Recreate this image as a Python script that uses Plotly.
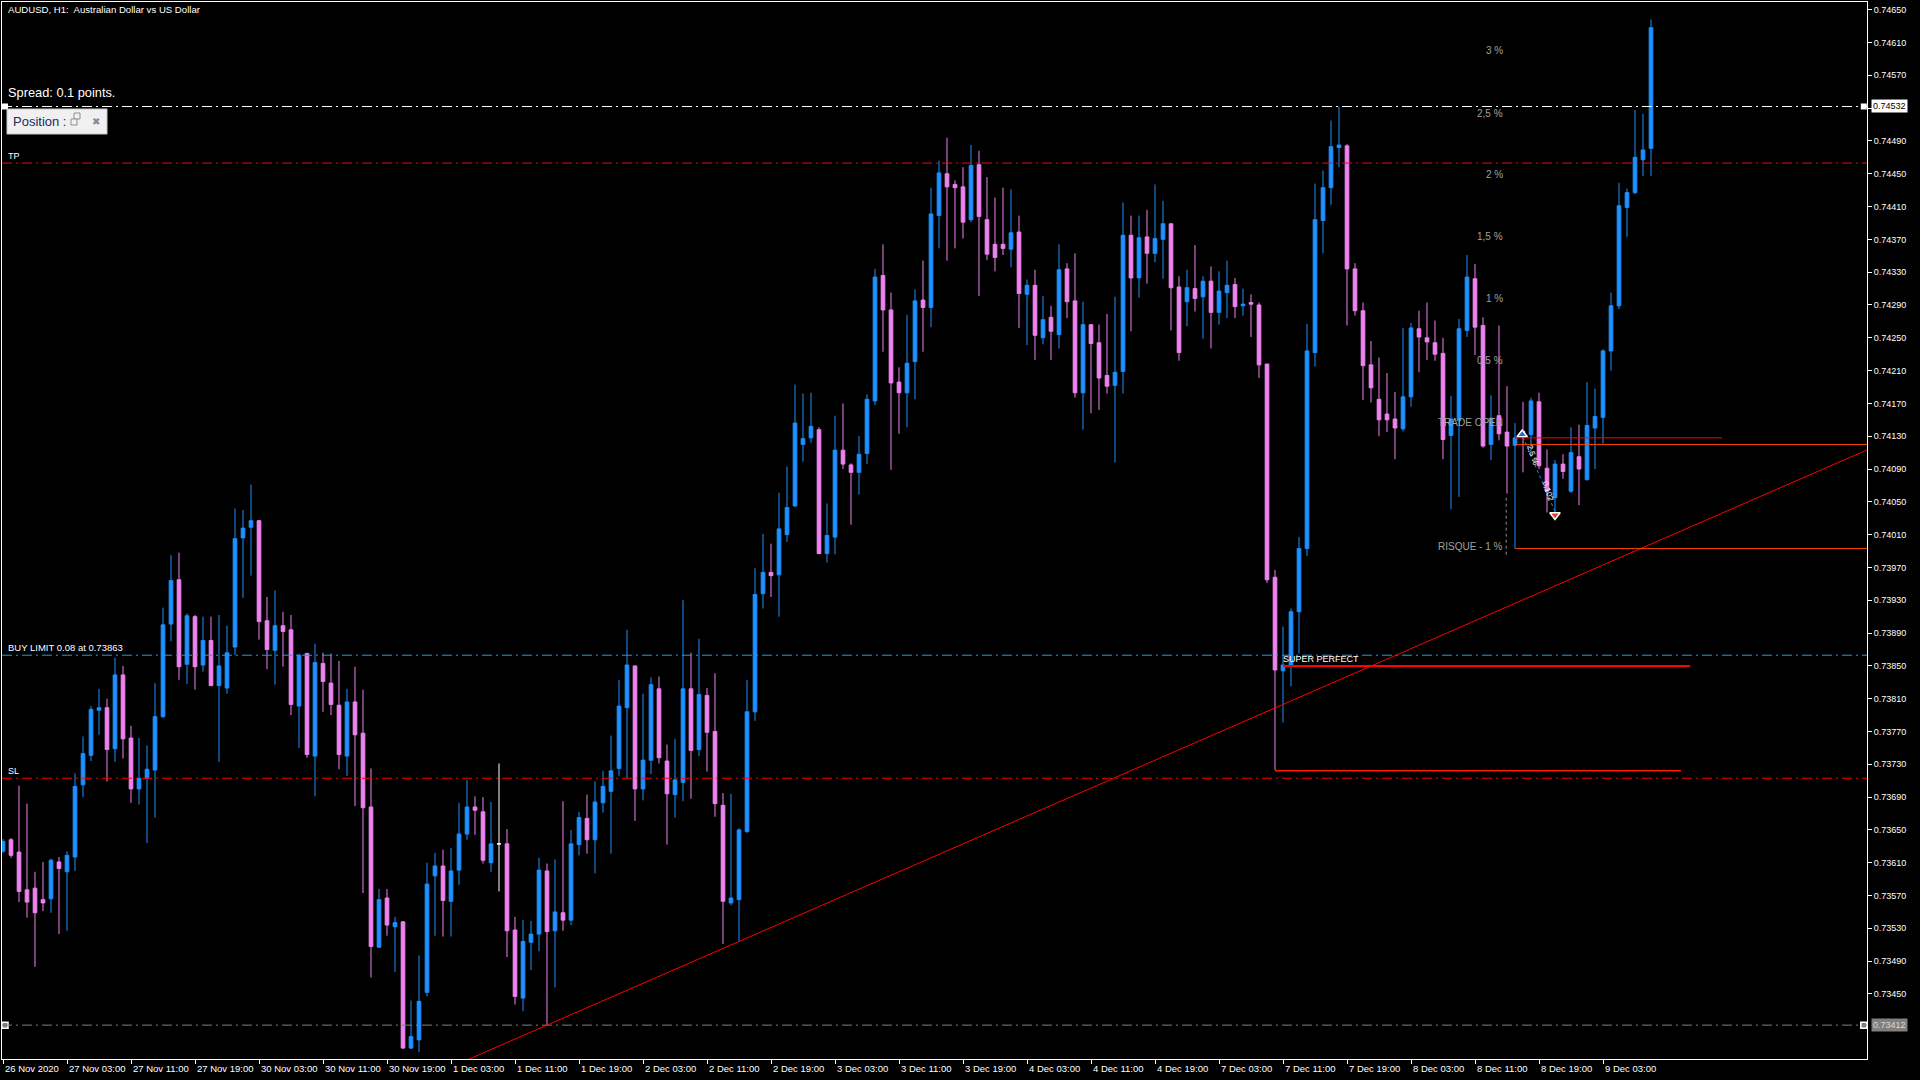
import plotly.graph_objects as go

# AUDUSD H1, bar 0 = 26 Nov 2020 19:00 (weekend hours skipped)
opens = [
    0.73624, 0.73638, 0.73623, 0.73577, 0.73579, 0.73565, 0.73566, 0.73611, 0.73599, 0.73617,
    0.73705, 0.73741, 0.73796, 0.73799, 0.73749, 0.73839, 0.73762, 0.73700, 0.73713, 0.73723,
    0.73788, 0.73901, 0.73955, 0.73852, 0.73910, 0.73851, 0.73881, 0.73826, 0.73823, 0.73873,
    0.74006, 0.74019, 0.74027, 0.73905, 0.73869, 0.73899, 0.73894, 0.73801, 0.73865, 0.73740,
    0.73853, 0.73829, 0.73802, 0.73740, 0.73806, 0.73768, 0.73678, 0.73507, 0.73567, 0.73532,
    0.73538, 0.73384, 0.73394, 0.73452, 0.73594, 0.73606, 0.73563, 0.73601, 0.73645, 0.73678,
    0.73672, 0.73610, 0.73633, 0.73633, 0.73528, 0.73445, 0.73513, 0.73523, 0.73600, 0.73527,
    0.73549, 0.73540, 0.73632, 0.73664, 0.73638, 0.73683, 0.73697, 0.73725, 0.73799, 0.73850,
    0.73700, 0.73735, 0.73822, 0.73734, 0.73693, 0.73708, 0.73822, 0.73748, 0.73814, 0.73770,
    0.73680, 0.73561, 0.73565, 0.73648, 0.73794, 0.73938, 0.73964, 0.73961, 0.74010, 0.74045,
    0.74120, 0.74128, 0.74138, 0.73987, 0.74007, 0.74113, 0.74095, 0.74086, 0.74109, 0.74173,
    0.74326, 0.74284, 0.74196, 0.74183, 0.74221, 0.74296, 0.74287, 0.74399, 0.74450, 0.74437,
    0.74434, 0.74394, 0.74461, 0.74394, 0.74364, 0.74364, 0.74358, 0.74379, 0.74303, 0.74314,
    0.74250, 0.74275, 0.74254, 0.74334, 0.74295, 0.74183, 0.74266, 0.74244, 0.74204, 0.74192,
    0.74209, 0.74375, 0.74323, 0.74373, 0.74353, 0.74370, 0.74389, 0.74312, 0.74294, 0.74310,
    0.74300, 0.74319, 0.74281, 0.74305, 0.74315, 0.74289, 0.74293, 0.74290, 0.74218, 0.73958,
    0.73844, 0.73850, 0.73916, 0.73993, 0.74232, 0.74393, 0.74433, 0.74482, 0.74484, 0.74334,
    0.74283, 0.74217, 0.74175, 0.74157, 0.74151, 0.74139, 0.74178, 0.74261, 0.74250, 0.74244,
    0.74231, 0.74131, 0.74149, 0.74259, 0.74322, 0.74265, 0.74120, 0.74155, 0.74135, 0.74119,
    0.74136, 0.74132, 0.74172, 0.74091, 0.74055, 0.74096, 0.74063, 0.74105, 0.74077, 0.74140,
    0.74153, 0.74234, 0.74289, 0.74409, 0.74427, 0.74467, 0.74481,
]
highs = [
    0.73639, 0.73640, 0.73704, 0.73682, 0.73599, 0.73611, 0.73615, 0.73617, 0.73624, 0.73719,
    0.73764, 0.73801, 0.73822, 0.73810, 0.73860, 0.73850, 0.73777, 0.73762, 0.73753, 0.73829,
    0.73921, 0.73985, 0.73988, 0.73914, 0.73912, 0.73910, 0.73910, 0.73912, 0.73899, 0.74042,
    0.74040, 0.74071, 0.74028, 0.73934, 0.73942, 0.73916, 0.73912, 0.73865, 0.73866, 0.73877,
    0.73866, 0.73865, 0.73856, 0.73822, 0.73849, 0.73821, 0.73725, 0.73578, 0.73578, 0.73544,
    0.73538, 0.73442, 0.73497, 0.73610, 0.73622, 0.73626, 0.73628, 0.73683, 0.73711, 0.73691,
    0.73690, 0.73684, 0.73731, 0.73651, 0.73544, 0.73540, 0.73539, 0.73616, 0.73609, 0.73614,
    0.73685, 0.73650, 0.73672, 0.73693, 0.73709, 0.73722, 0.73765, 0.73833, 0.73894, 0.73850,
    0.73816, 0.73836, 0.73837, 0.73754, 0.73761, 0.73930, 0.73866, 0.73883, 0.73823, 0.73841,
    0.73695, 0.73694, 0.73652, 0.73833, 0.73969, 0.74011, 0.73999, 0.74061, 0.74093, 0.74193,
    0.74182, 0.74183, 0.74141, 0.74048, 0.74155, 0.74170, 0.74097, 0.74130, 0.74181, 0.74334,
    0.74364, 0.74305, 0.74214, 0.74278, 0.74309, 0.74344, 0.74433, 0.74466, 0.74494, 0.74442,
    0.74458, 0.74485, 0.74478, 0.74446, 0.74421, 0.74433, 0.74431, 0.74399, 0.74321, 0.74333,
    0.74301, 0.74289, 0.74364, 0.74341, 0.74353, 0.74294, 0.74266, 0.74266, 0.74279, 0.74300,
    0.74415, 0.74399, 0.74399, 0.74406, 0.74437, 0.74417, 0.74389, 0.74325, 0.74333, 0.74363,
    0.74325, 0.74337, 0.74331, 0.74344, 0.74323, 0.74310, 0.74303, 0.74293, 0.74218, 0.73967,
    0.73898, 0.73920, 0.74007, 0.74267, 0.74438, 0.74454, 0.74515, 0.74532, 0.74486, 0.74341,
    0.74293, 0.74246, 0.74226, 0.74207, 0.74184, 0.74262, 0.74268, 0.74283, 0.74293, 0.74271,
    0.74250, 0.74179, 0.74273, 0.74351, 0.74340, 0.74275, 0.74180, 0.74265, 0.74191, 0.74146,
    0.74172, 0.74177, 0.74183, 0.74114, 0.74101, 0.74108, 0.74141, 0.74144, 0.74196, 0.74188,
    0.74236, 0.74305, 0.74439, 0.74432, 0.74528, 0.74523, 0.74638,
]
lows = [
    0.73622, 0.73616, 0.73562, 0.73543, 0.73483, 0.73551, 0.73549, 0.73523, 0.73527, 0.73600,
    0.73690, 0.73734, 0.73766, 0.73709, 0.73733, 0.73737, 0.73683, 0.73681, 0.73634, 0.73665,
    0.73787, 0.73880, 0.73833, 0.73828, 0.73821, 0.73843, 0.73825, 0.73733, 0.73816, 0.73863,
    0.73933, 0.73960, 0.73882, 0.73846, 0.73827, 0.73849, 0.73790, 0.73750, 0.73738, 0.73691,
    0.73794, 0.73790, 0.73724, 0.73716, 0.73679, 0.73573, 0.73470, 0.73506, 0.73521, 0.73477,
    0.73383, 0.73383, 0.73379, 0.73447, 0.73521, 0.73520, 0.73520, 0.73583, 0.73638, 0.73644,
    0.73609, 0.73599, 0.73575, 0.73495, 0.73437, 0.73429, 0.73479, 0.73502, 0.73412, 0.73458,
    0.73527, 0.73534, 0.73619, 0.73621, 0.73597, 0.73671, 0.73621, 0.73716, 0.73713, 0.73661,
    0.73686, 0.73718, 0.73731, 0.73632, 0.73665, 0.73685, 0.73688, 0.73740, 0.73721, 0.73666,
    0.73511, 0.73558, 0.73514, 0.73646, 0.73783, 0.73920, 0.73934, 0.73910, 0.74001, 0.74044,
    0.74099, 0.74122, 0.73986, 0.73976, 0.73986, 0.74090, 0.74022, 0.74059, 0.74096, 0.74168,
    0.74233, 0.74089, 0.74133, 0.74141, 0.74175, 0.74233, 0.74263, 0.74359, 0.74344, 0.74359,
    0.74371, 0.74391, 0.74301, 0.74345, 0.74331, 0.74351, 0.74336, 0.74262, 0.74241, 0.74223,
    0.74242, 0.74223, 0.74237, 0.74274, 0.74177, 0.74138, 0.74158, 0.74162, 0.74182, 0.74098,
    0.74182, 0.74258, 0.74299, 0.74316, 0.74342, 0.74322, 0.74259, 0.74222, 0.74264, 0.74282,
    0.74249, 0.74237, 0.74266, 0.74274, 0.74274, 0.74277, 0.74251, 0.74201, 0.73951, 0.73723,
    0.73781, 0.73825, 0.73865, 0.73984, 0.74215, 0.74353, 0.74412, 0.74458, 0.74265, 0.74277,
    0.74174, 0.74171, 0.74130, 0.74135, 0.74102, 0.74136, 0.74166, 0.74208, 0.74223, 0.74222,
    0.74102, 0.74041, 0.74056, 0.74251, 0.74229, 0.74116, 0.74101, 0.74125, 0.74060, 0.73993,
    0.74086, 0.74105, 0.74090, 0.74037, 0.74030, 0.74078, 0.74061, 0.74046, 0.74076, 0.74090,
    0.74121, 0.74210, 0.74285, 0.74373, 0.74425, 0.74447, 0.74447,
]
closes = [
    0.73636, 0.73619, 0.73575, 0.73562, 0.73549, 0.73561, 0.73613, 0.73603, 0.73619, 0.73703,
    0.73743, 0.73797, 0.73799, 0.73748, 0.73839, 0.73761, 0.73700, 0.73713, 0.73724, 0.73788,
    0.73900, 0.73954, 0.73849, 0.73911, 0.73849, 0.73881, 0.73826, 0.73850, 0.73866, 0.74005,
    0.74018, 0.74027, 0.73904, 0.73870, 0.73899, 0.73892, 0.73803, 0.73863, 0.73742, 0.73854,
    0.73831, 0.73803, 0.73742, 0.73806, 0.73766, 0.73677, 0.73508, 0.73565, 0.73534, 0.73537,
    0.73384, 0.73398, 0.73441, 0.73584, 0.73606, 0.73564, 0.73600, 0.73645, 0.73678, 0.73674,
    0.73613, 0.73633, 0.73633, 0.73527, 0.73447, 0.73514, 0.73523, 0.73601, 0.73526, 0.73550,
    0.73540, 0.73633, 0.73665, 0.73638, 0.73684, 0.73703, 0.73722, 0.73801, 0.73851, 0.73700,
    0.73735, 0.73827, 0.73738, 0.73694, 0.73711, 0.73822, 0.73747, 0.73815, 0.73769, 0.73682,
    0.73563, 0.73567, 0.73650, 0.73794, 0.73937, 0.73964, 0.73960, 0.74017, 0.74043, 0.74146,
    0.74127, 0.74142, 0.73987, 0.74009, 0.74113, 0.74096, 0.74086, 0.74108, 0.74175, 0.74324,
    0.74284, 0.74195, 0.74183, 0.74219, 0.74295, 0.74287, 0.74401, 0.74451, 0.74434, 0.74433,
    0.74391, 0.74460, 0.74398, 0.74352, 0.74348, 0.74359, 0.74378, 0.74304, 0.74314, 0.74253,
    0.74272, 0.74258, 0.74333, 0.74294, 0.74183, 0.74266, 0.74243, 0.74201, 0.74191, 0.74208,
    0.74375, 0.74323, 0.74372, 0.74353, 0.74371, 0.74389, 0.74311, 0.74232, 0.74311, 0.74298,
    0.74319, 0.74281, 0.74307, 0.74314, 0.74288, 0.74291, 0.74291, 0.74217, 0.73955, 0.73845,
    0.73851, 0.73916, 0.73993, 0.74234, 0.74394, 0.74433, 0.74483, 0.74485, 0.74334, 0.74283,
    0.74216, 0.74189, 0.74150, 0.74150, 0.74140, 0.74178, 0.74262, 0.74251, 0.74245, 0.74230,
    0.74126, 0.74151, 0.74261, 0.74324, 0.74263, 0.74118, 0.74152, 0.74133, 0.74118, 0.74128,
    0.74129, 0.74173, 0.74094, 0.74063, 0.74096, 0.74087, 0.74110, 0.74090, 0.74143, 0.74154,
    0.74234, 0.74289, 0.74411, 0.74427, 0.74470, 0.74479, 0.74628,
]

time_labels = [
    "26 Nov 2020", "27 Nov 03:00", "27 Nov 11:00", "27 Nov 19:00", "30 Nov 03:00",
    "30 Nov 11:00", "30 Nov 19:00", "1 Dec 03:00", "1 Dec 11:00", "1 Dec 19:00",
    "2 Dec 03:00", "2 Dec 11:00", "2 Dec 19:00", "3 Dec 03:00", "3 Dec 11:00",
    "3 Dec 19:00", "4 Dec 03:00", "4 Dec 11:00", "4 Dec 19:00", "7 Dec 03:00",
    "7 Dec 11:00", "7 Dec 19:00", "8 Dec 03:00", "8 Dec 11:00", "8 Dec 19:00",
    "9 Dec 03:00",
]
label_bars = [8 * i for i in range(len(time_labels))]

price_ticks = [round(0.73450 + 0.0004 * i, 5) for i in range(31)]

# order / object levels
tp_level = 0.74463
sl_level = 0.73713
buy_limit = 0.73863
hline_high = 0.74532
hline_low = 0.73412

# trend line anchors (bar, price)
trend_bars = [68, 92]
trend_prices = [0.73412, 0.73514]

# risk tool labels (text, level)
risk_labels = ["3 %", "2,5 %", "2 %", "1,5 %", "1 %", "0,5 %", "TRADE OPEN", "RISQUE - 1 %"]
risk_levels = [0.74600, 0.74523, 0.74449, 0.74373, 0.74298, 0.74222, 0.74147, 0.73995]

BULL = "#1E90FF"
BEAR = "#EE82EE"
FONT = "Liberation Sans, Arial, sans-serif"

X_MIN, X_MAX = -0.125, 233.0
Y_MIN, Y_MAX = 0.733707, 0.746594

# pixel helpers for overlay pieces (plot area = x 2..1867, y 2..1059)
def px_x(px):
    return (px - 2) / 1865.0

def px_y(py):
    return (1059 - py) / 1057.0

idx = list(range(len(opens)))
doji = [i for i in idx if opens[i] == closes[i]]
normal = [i for i in idx if opens[i] != closes[i]]

fig = go.Figure()

fig.add_trace(go.Candlestick(
    x=normal,
    open=[opens[i] for i in normal],
    high=[highs[i] for i in normal],
    low=[lows[i] for i in normal],
    close=[closes[i] for i in normal],
    increasing=dict(line=dict(color=BULL, width=1), fillcolor=BULL),
    decreasing=dict(line=dict(color=BEAR, width=1), fillcolor=BEAR),
    whiskerwidth=0,
    hoverinfo="skip",
))
fig.add_trace(go.Candlestick(
    x=doji,
    open=[opens[i] for i in doji],
    high=[highs[i] for i in doji],
    low=[lows[i] for i in doji],
    close=[closes[i] for i in doji],
    increasing=dict(line=dict(color="white", width=1), fillcolor="white"),
    decreasing=dict(line=dict(color="white", width=1), fillcolor="white"),
    whiskerwidth=0,
    hoverinfo="skip",
))

# trade history: buy arrow -> close arrow, dotted link
fig.add_trace(go.Scatter(
    x=[190, 194], y=[0.74129, 0.74038], mode="lines",
    line=dict(color=BULL, width=1, dash="dot"), hoverinfo="skip",
))
fig.add_trace(go.Scatter(
    x=[189.9], y=[0.74132], mode="markers",
    marker=dict(symbol="triangle-up", size=9, color="#1E6EC8", line=dict(color="white", width=1.5)),
    hoverinfo="skip",
))
fig.add_trace(go.Scatter(
    x=[194], y=[0.74034], mode="markers",
    marker=dict(symbol="triangle-down", size=9, color="#E8401C", line=dict(color="white", width=1.5)),
    hoverinfo="skip",
))

# selection handles on the two horizontal lines
fig.add_trace(go.Scatter(
    x=[0.25, 232.6], y=[hline_high, hline_high], mode="markers", cliponaxis=False,
    marker=dict(symbol="square", size=6, color="white"), hoverinfo="skip",
))
fig.add_trace(go.Scatter(
    x=[0.25, 232.6], y=[hline_low, hline_low], mode="markers", cliponaxis=False,
    marker=dict(symbol="square", size=6, color="#808080", line=dict(color="white", width=1.5)),
    hoverinfo="skip",
))

dashdot = "10px,4px,2px,4px"
shapes = []
for lvl, col in [(hline_high, "white"), (tp_level, "#FF0000"), (buy_limit, "#1E9BE6"),
                 (sl_level, "#FF0000"), (hline_low, "#808080")]:
    shapes.append(dict(type="line", xref="paper", x0=0, x1=1, yref="y", y0=lvl, y1=lvl,
                       line=dict(color=col, width=1, dash=dashdot)))

# trend line extended over the visible window
slope = (trend_prices[1] - trend_prices[0]) / (trend_bars[1] - trend_bars[0])
tx0, tx1 = 56, X_MAX
shapes.append(dict(type="line", xref="x", yref="y",
                   x0=tx0, y0=trend_prices[0] + slope * (tx0 - trend_bars[0]),
                   x1=tx1, y1=trend_prices[0] + slope * (tx1 - trend_bars[0]),
                   line=dict(color="#FF0000", width=1)))

# zone lines drawn from candles
for x0, x1, y, col, w in [
    (160, 210.9, 0.73850, "#FF0000", 2),
    (159, 209.75, 0.73722, "#FF1A00", 1.5),
    (189, 214.9, 0.74128, "#FF0000", 1),
    (189, X_MAX, 0.74120, "#FF4500", 1),
    (189, X_MAX, 0.73993, "#FF4500", 1),
]:
    shapes.append(dict(type="line", xref="x", yref="y", x0=x0, x1=x1, y0=y, y1=y,
                       line=dict(color=col, width=w)))

shapes.append(dict(type="line", xref="x", yref="y", x0=187.9, x1=187.9, y0=0.74055, y1=0.73985,
                   line=dict(color="#909090", width=1, dash="dot")))

# "Position" mini panel
shapes.append(dict(type="rect", xref="paper", yref="paper",
                   x0=px_x(7), x1=px_x(107), y0=px_y(134), y1=px_y(109),
                   fillcolor="#F0F0F0", line=dict(color="#C8C8C8", width=1)))
shapes.append(dict(type="rect", xref="paper", yref="paper",
                   x0=px_x(74), x1=px_x(80), y0=px_y(119), y1=px_y(113),
                   fillcolor="#F0F0F0", line=dict(color="#909090", width=1)))
shapes.append(dict(type="rect", xref="paper", yref="paper",
                   x0=px_x(71), x1=px_x(77), y0=px_y(125), y1=px_y(119),
                   fillcolor="#F0F0F0", line=dict(color="#909090", width=1)))

annotations = []

def note(text, x, y, xref="paper", yref="paper", size=9, color="white", xanchor="left",
         yanchor="middle", **kw):
    annotations.append(dict(text=text, x=x, y=y, xref=xref, yref=yref, showarrow=False,
                            xanchor=xanchor, yanchor=yanchor,
                            font=dict(family=FONT, size=size, color=color), **kw))

note("AUDUSD, H1:&nbsp; Australian Dollar vs US Dollar", px_x(6), px_y(9), size=9.6)
note("Spread: 0.1 points.", px_x(6), px_y(92), size=12.8)
note("Position :", px_x(11), px_y(121.5), size=13, color="#1E2A5A")
note("✖", px_x(90), px_y(121.5), size=10, color="#8A8A8A")
note("TP", px_x(6), tp_level, yref="y", size=9, yanchor="bottom", yshift=0)
note("BUY LIMIT 0.08 at 0.73863", px_x(6), buy_limit, yref="y", size=9.5, yanchor="bottom")
note("SL", px_x(6), sl_level, yref="y", size=9, yanchor="bottom")
note("SUPER PERFECT", 160, 0.73850, xref="x", yref="y", size=9, yanchor="bottom", xshift=-2)

for txt, lvl in zip(risk_labels, risk_levels):
    note(txt, px_x(1505), lvl, yref="y", size=10, color="#A0A0A0", xanchor="right")

note("2,5 %", 191.2, 0.74108, xref="x", yref="y", size=8, xanchor="center", textangle=72)
note("0,102", 193.1, 0.74062, xref="x", yref="y", size=8, xanchor="center", textangle=72)

# price labels of the horizontal lines on the axis
annotations.append(dict(text="0.74532", x=1, xref="paper", y=hline_high, yref="y",
                        xanchor="left", yanchor="middle", xshift=4, showarrow=False,
                        bgcolor="white", borderpad=1,
                        font=dict(family=FONT, size=9, color="black")))
annotations.append(dict(text="0.73412", x=1, xref="paper", y=hline_low, yref="y",
                        xanchor="left", yanchor="middle", xshift=4, showarrow=False,
                        bgcolor="#808080", borderpad=1,
                        font=dict(family=FONT, size=9, color="#D8D8D8")))

# time axis labels, left aligned at the tick like the terminal
for b, lab in zip(label_bars, time_labels):
    note(lab, b, 0, xref="x", yref="paper", size=9.5, yanchor="top", yshift=-2, xshift=0)

fig.update_layout(
    width=1920, height=1080,
    margin=dict(l=2, r=53, t=2, b=21),
    paper_bgcolor="black", plot_bgcolor="black",
    showlegend=False,
    boxgap=0.35,
    shapes=shapes,
    annotations=annotations,
    font=dict(family=FONT, size=9, color="white"),
    xaxis=dict(
        range=[X_MIN, X_MAX], rangeslider=dict(visible=False),
        showgrid=False, zeroline=False,
        showline=True, linecolor="white", linewidth=1, mirror=True,
        tickvals=label_bars, showticklabels=False,
        ticks="outside", ticklen=4, tickcolor="white",
    ),
    yaxis=dict(
        range=[Y_MIN, Y_MAX], side="right",
        showgrid=False, zeroline=False,
        showline=True, linecolor="white", linewidth=1, mirror=True,
        tickvals=price_ticks, ticktext=[f"{v:.5f}" for v in price_ticks],
        ticks="outside", ticklen=4, tickcolor="white",
        tickfont=dict(family=FONT, size=9, color="white"),
    ),
)

# the page body has a default 8px margin; drop it so the chart sits at 0,0
fig.write_html(
    "out.html",
    config={"displayModeBar": False},
    post_script="document.body.style.margin='0';document.body.style.background='black';",
)
